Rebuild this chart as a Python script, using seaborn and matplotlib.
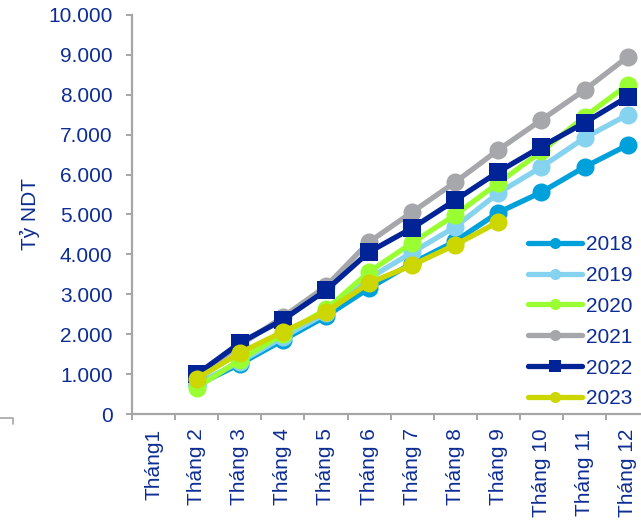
import numpy as np
import pandas as pd
import matplotlib
matplotlib.use("Agg")
import matplotlib.pyplot as plt
from matplotlib.lines import Line2D
import seaborn as sns

months = ["Tháng1", "Tháng 2", "Tháng 3", "Tháng 4", "Tháng 5", "Tháng 6",
          "Tháng 7", "Tháng 8", "Tháng 9", "Tháng 10", "Tháng 11", "Tháng 12"]
years = ["2018", "2019", "2020", "2021", "2022", "2023"]
nan = np.nan
v2018 = [nan, 720, 1250, 1850, 2450, 3150, 3780, 4330, 5050, 5560, 6190, 6740]
v2019 = [nan, 760, 1300, 1920, 2520, 3400, 4050, 4690, 5540, 6190, 6920, 7500]
v2020 = [nan, 660, 1350, 2000, 2620, 3560, 4290, 4990, 5790, 6580, 7450, 8250]
v2021 = [nan, 950, 1720, 2430, 3200, 4310, 5060, 5810, 6620, 7370, 8120, 8950]
v2022 = [nan, 990, 1780, 2360, 3100, 4060, 4660, 5360, 6070, 6700, 7300, 7950]
v2023 = [nan, 880, 1530, 2060, 2560, 3280, 3730, 4240, 4810, nan, nan, nan]
series = [v2018, v2019, v2020, v2021, v2022, v2023]

colors = {"2018": "#00A0DA", "2019": "#86D3F0", "2020": "#99FF33",
          "2021": "#A6A7AA", "2022": "#002395", "2023": "#CCD600"}
markers = {"2018": "o", "2019": "o", "2020": "o", "2021": "o", "2022": "s", "2023": "o"}
TXT = "#0D2D94"
AX = "#A6A6A6"

rows = []
for y, vals in zip(years, series):
    for i, v in enumerate(vals):
        if not np.isnan(v):
            rows.append({"x": i, "value": v, "year": y})
df = pd.DataFrame(rows)

sns.set_theme(style="white")
plt.rcParams["font.family"] = ["Liberation Sans", "DejaVu Sans"]

W, H = 641, 520
fig = plt.figure(figsize=(W / 100, H / 100), dpi=100)
left, right, top, bottom = 132, 649.2, 15, 414
ax = fig.add_axes([left / W, 1 - bottom / H, (right - left) / W, (bottom - top) / H])

sns.lineplot(data=df, x="x", y="value", hue="year", style="year",
             hue_order=years, style_order=years, palette=colors,
             markers=markers, dashes=False, linewidth=3.8, markersize=13,
             markeredgewidth=0, errorbar=None, legend=False, sort=False, ax=ax)

ax.set_xlim(-0.5, 11.5)
ax.set_ylim(0, 10000)
ax.set_yticks(np.arange(0, 10001, 1000))
ax.set_yticklabels([f"{int(t):,}".replace(",", ".") for t in np.arange(0, 10001, 1000)])
ax.set_xticks(np.arange(-0.5, 12, 1))
ax.set_xticklabels([])
ax.set_xticks(np.arange(12), minor=True)
ax.set_xticklabels(months, minor=True, rotation=90, va="top", ha="center")
ax.set_xlabel("")
ax.set_ylabel("Tỷ NDT", color=TXT, fontsize=15)
ax.yaxis.set_label_coords((40 - left) / (right - left), 0.5)

for s in ["top", "right"]:
    ax.spines[s].set_visible(False)
for s in ["left", "bottom"]:
    ax.spines[s].set_color(AX)
    ax.spines[s].set_linewidth(1.6)
    ax.spines[s].set_visible(True)

ax.tick_params(axis="y", which="major", direction="out", length=4.5, width=1.4,
               color=AX, labelcolor=TXT, labelsize=15, pad=9.5, left=True)
ax.tick_params(axis="x", which="major", direction="out", length=4.5, width=1.4,
               color=AX, bottom=True)
ax.tick_params(axis="x", which="minor", length=0, labelcolor=TXT, labelsize=15, pad=10.5)

handles = [Line2D([0], [0], color=colors[y], lw=3.8, marker=markers[y], markersize=8,
                  markeredgewidth=0) for y in years]
fig.legend(handles, years, loc="upper left", bbox_to_anchor=(528 / W, 1 - 235 / H),
           frameon=False, fontsize=15, handlelength=2.6, handletextpad=0.2,
           labelspacing=0.57, borderpad=0, borderaxespad=0, labelcolor=TXT)

fig.add_artist(Line2D([0, 13 / W, 13 / W], [1 - 418 / H, 1 - 418 / H, 1 - 424 / H],
                      color=AX, lw=1.2, transform=fig.transFigure))

fig.savefig("out.png", dpi=100)
